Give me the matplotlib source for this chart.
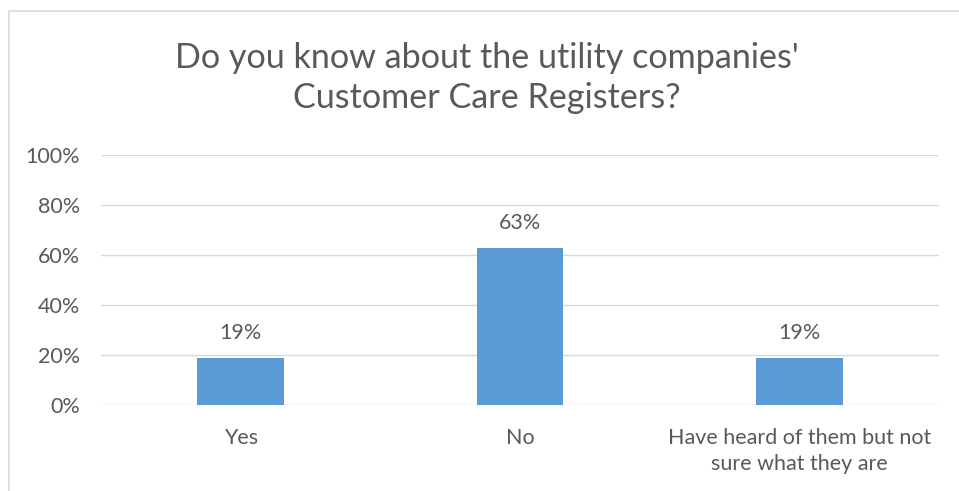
import matplotlib.pyplot as plt
from matplotlib.patches import Rectangle

categories = ["Yes", "No", "Have heard of them but not\nsure what they are"]
shares = [0.19, 0.63, 0.19]
value_labels = ["19%", "63%", "19%"]
yticks = [0, 0.2, 0.4, 0.6, 0.8, 1.0]
ytick_labels = ["0%", "20%", "40%", "60%", "80%", "100%"]
title = "Do you know about the utility companies'\nCustomer Care Registers?"

text_col = "#595959"
grid_col = "#D9D9D9"
bar_col = "#5B9BD5"

plt.rcParams['font.family'] = ['Lato', 'DejaVu Sans']

W, H = 959, 491
fig = plt.figure(figsize=(W / 100, H / 100), dpi=100)

# chart border (cut off on the right and bottom in the original)
fig.patches.append(Rectangle((8.5 / W, -0.1), 1.2, 1 - 10.5 / H + 0.1,
                             transform=fig.transFigure, fill=False,
                             edgecolor=grid_col, linewidth=1.2))

ax = fig.add_axes([101 / W, 1 - 405 / H, (939 - 101) / W, 250 / H])
x = range(len(categories))
ax.bar(x, shares, width=0.31, color=bar_col, zorder=3)
ax.set_xlim(-0.5, 2.5)
ax.set_ylim(0, 1.0)

ax.set_yticks(yticks)
ax.set_yticklabels(ytick_labels)
ax.set_xticks(list(x))
ax.set_xticklabels(categories, linespacing=1.38)
ax.tick_params(axis='both', length=0, colors=text_col, labelsize=15.5)
ax.tick_params(axis='y', pad=15)
ax.tick_params(axis='x', pad=16.5)

ax.grid(axis='y', color=grid_col, linewidth=1, zorder=0)
for s in ax.spines.values():
    s.set_visible(False)

for xi, v, lab in zip(x, shares, value_labels):
    ax.annotate(lab, (xi, v), xytext=(0, 17.5), textcoords='offset points',
                ha='center', va='center', color=text_col, fontsize=15.5)

fig.text(487 / W, 1 - 78 / H, title, ha='center', va='center',
         color=text_col, fontsize=24.6, linespacing=1.32)

fig.savefig("out.png", dpi=100)
